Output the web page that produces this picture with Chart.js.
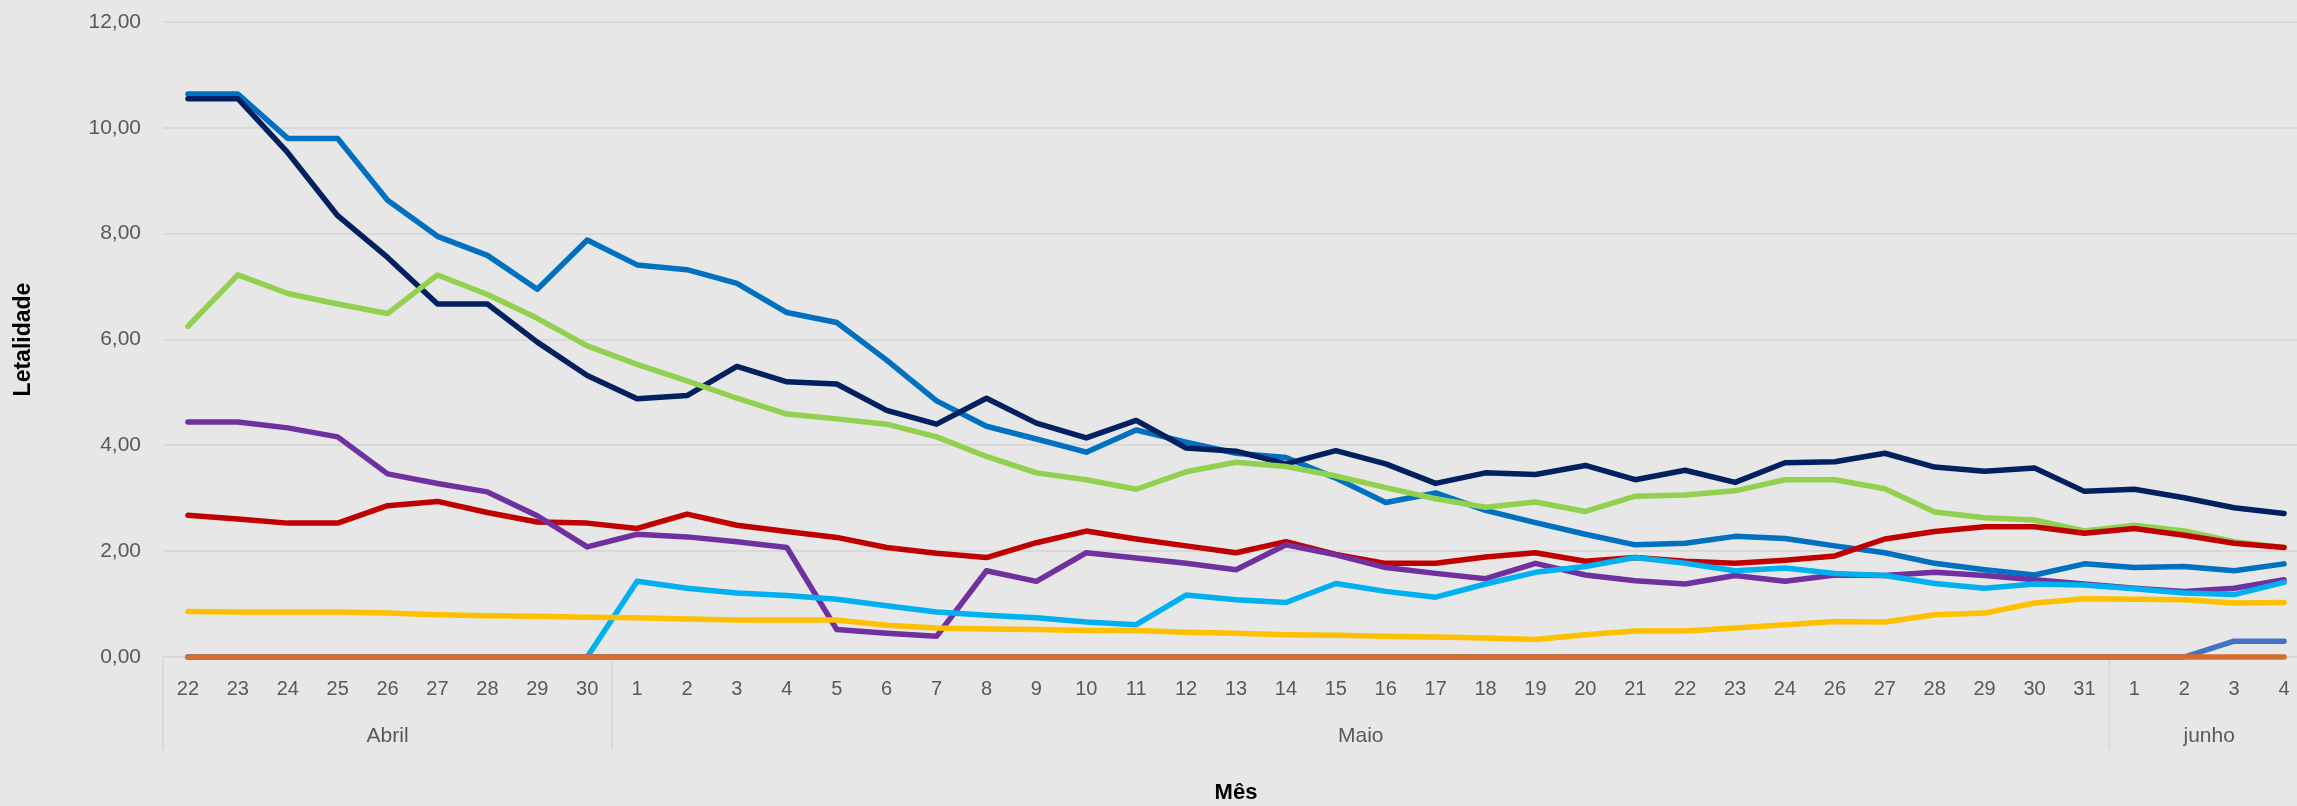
<!DOCTYPE html>
<html>
<head>
<meta charset="utf-8">
<script src="https://cdn.jsdelivr.net/npm/chart.js@4/dist/chart.umd.min.js"></script>
<style>
    html, body { margin: 0; padding: 0; overflow: hidden; background: #E7E7E7; }
    canvas { display: block; background: #E7E7E7; }
</style>
</head>
<body>
<canvas id="chart" width="2320" height="806"></canvas>
<script>
// categorias (dias) e agrupamento por mês
const dias = ['22', '23', '24', '25', '26', '27', '28', '29', '30',
    '1', '2', '3', '4', '5', '6', '7', '8', '9', '10', '11', '12', '13', '14', '15', '16',
    '17', '18', '19', '20', '21', '22', '23', '24', '26', '27', '28', '29', '30', '31',
    '1', '2', '3', '4'];
const meses = ['Abril', 'Maio', 'junho'];
const diasPorMes = [9, 30, 4];

const yTicks = [0, 2, 4, 6, 8, 10, 12];

// séries de letalidade
const serieAzulEscuro = [10.55, 10.55, 9.53, 8.34, 7.55, 6.67, 6.67, 5.95, 5.32, 4.88, 4.94, 5.49, 5.20, 5.16, 4.66,
    4.40, 4.89, 4.42, 4.14, 4.47, 3.95, 3.89, 3.65, 3.90, 3.65, 3.28, 3.48, 3.45, 3.62, 3.35, 3.53, 3.30, 3.67,
    3.69, 3.85, 3.59, 3.51, 3.57, 3.13, 3.17, 3.01, 2.82, 2.71];
const serieAzul = [10.64, 10.64, 9.80, 9.80, 8.63, 7.95, 7.59, 6.95, 7.88, 7.41, 7.32, 7.06, 6.51, 6.32, 5.61,
    4.84, 4.36, 4.12, 3.87, 4.29, 4.06, 3.85, 3.77, 3.38, 2.92, 3.10, 2.77, 2.54, 2.32, 2.12, 2.15, 2.28, 2.24,
    2.10, 1.97, 1.77, 1.65, 1.55, 1.76, 1.69, 1.71, 1.63, 1.76];
const serieVerde = [6.25, 7.22, 6.87, 6.67, 6.49, 7.22, 6.85, 6.40, 5.88, 5.53, 5.22, 4.89, 4.59, 4.50, 4.40,
    4.16, 3.79, 3.48, 3.35, 3.17, 3.50, 3.68, 3.60, 3.42, 3.20, 2.99, 2.83, 2.93, 2.75, 3.04, 3.06, 3.14, 3.35,
    3.35, 3.18, 2.74, 2.63, 2.59, 2.38, 2.49, 2.38, 2.18, 2.07];
const serieRoxo = [4.44, 4.44, 4.33, 4.16, 3.46, 3.28, 3.12, 2.67, 2.08, 2.32, 2.27, 2.18, 2.07, 0.52, 0.45,
    0.39, 1.63, 1.43, 1.97, 1.87, 1.77, 1.65, 2.12, 1.93, 1.69, 1.58, 1.48, 1.77, 1.55, 1.44, 1.38, 1.54, 1.43,
    1.55, 1.54, 1.60, 1.54, 1.46, 1.38, 1.30, 1.24, 1.30, 1.46];
const serieVermelho = [2.68, 2.61, 2.53, 2.53, 2.86, 2.94, 2.73, 2.55, 2.53, 2.43, 2.70, 2.49, 2.37, 2.26, 2.07,
    1.96, 1.88, 2.16, 2.38, 2.23, 2.10, 1.97, 2.18, 1.94, 1.77, 1.77, 1.89, 1.97, 1.81, 1.88, 1.81, 1.77, 1.83,
    1.91, 2.23, 2.37, 2.46, 2.46, 2.34, 2.43, 2.30, 2.15, 2.07];
const serieCiano = [0, 0, 0, 0, 0, 0, 0, 0, 0, 1.43, 1.30, 1.21, 1.16, 1.09, 0.97,
    0.85, 0.79, 0.74, 0.66, 0.61, 1.17, 1.08, 1.03, 1.39, 1.24, 1.13, 1.38, 1.60, 1.71, 1.88, 1.77, 1.63, 1.68,
    1.58, 1.54, 1.39, 1.30, 1.38, 1.36, 1.29, 1.21, 1.18, 1.41];
const serieAmarelo = [0.86, 0.85, 0.85, 0.85, 0.83, 0.80, 0.78, 0.77, 0.75, 0.74, 0.72, 0.70, 0.70, 0.70, 0.60,
    0.55, 0.53, 0.52, 0.50, 0.50, 0.47, 0.45, 0.42, 0.41, 0.39, 0.38, 0.36, 0.33, 0.42, 0.49, 0.49, 0.55, 0.61,
    0.67, 0.66, 0.80, 0.83, 1.02, 1.10, 1.09, 1.08, 1.02, 1.03];
const serieAzulAco = [0, 0, 0, 0, 0, 0, 0, 0, 0, 0, 0, 0, 0, 0, 0,
    0, 0, 0, 0, 0, 0, 0, 0, 0, 0, 0, 0, 0, 0, 0, 0, 0, 0,
    0, 0, 0, 0, 0, 0, 0, 0, 0.30, 0.30];
const serieLaranja = [0, 0, 0, 0, 0, 0, 0, 0, 0, 0, 0, 0, 0, 0, 0,
    0, 0, 0, 0, 0, 0, 0, 0, 0, 0, 0, 0, 0, 0, 0, 0, 0, 0,
    0, 0, 0, 0, 0, 0, 0, 0, 0, 0];

const fonte = "'Liberation Sans', Arial, sans-serif";

function linha(dados, cor, ordem) {
    return {
        data: dados,
        borderColor: cor,
        backgroundColor: cor,
        borderWidth: 5.5,
        borderCapStyle: 'round',
        borderJoinStyle: 'round',
        pointRadius: 0,
        tension: 0,
        clip: false,
        order: ordem
    };
}

// rótulos de mês (segundo nível do eixo x)
const mesesPlugin = {
    id: 'meses',
    afterDraw(chart) {
        const ctx = chart.ctx;
        const x = chart.scales.x;
        const base = chart.chartArea.bottom;
        const meio = (i) => (x.getPixelForValue(i) + x.getPixelForValue(i + 1)) / 2;
        ctx.save();
        ctx.strokeStyle = '#D9D9D9';
        ctx.lineWidth = 2;
        ctx.fillStyle = '#595959';
        ctx.font = '21px ' + fonte;
        ctx.textAlign = 'center';
        ctx.textBaseline = 'middle';
        let inicio = 0;
        meses.forEach((mes, k) => {
            const fim = inicio + diasPorMes[k] - 1;
            const esq = inicio === 0 ? x.left : meio(inicio - 1);
            const dir = fim === dias.length - 1 ? x.right : meio(fim);
            ctx.beginPath();
            ctx.moveTo(esq, base + 3);
            ctx.lineTo(esq, 750);
            ctx.stroke();
            ctx.fillText(mes, (esq + dir) / 2, 736);
            inicio = fim + 1;
        });
        ctx.restore();
    }
};

new Chart(document.getElementById('chart').getContext('2d'), {
    type: 'line',
    data: {
        labels: dias,
        datasets: [
            linha(serieAzul, '#0070C0', 8),
            linha(serieAzulEscuro, '#002060', 7),
            linha(serieVerde, '#92D050', 6),
            linha(serieVermelho, '#C00000', 5),
            linha(serieRoxo, '#7030A0', 4),
            linha(serieCiano, '#00B0F0', 3),
            linha(serieAmarelo, '#FFC000', 2),
            linha(serieAzulAco, '#4472C4', 1),
            linha(serieLaranja, '#D36F2D', 0)
        ]
    },
    options: {
        responsive: false,
        animation: false,
        layout: {
            padding: { top: 22, right: 11, bottom: 0, left: 0 }
        },
        plugins: {
            legend: { display: false },
            tooltip: { enabled: false }
        },
        scales: {
            x: {
                offset: true,
                grid: { display: false, drawTicks: false },
                border: { display: true, color: '#D9D9D9', width: 2 },
                ticks: {
                    autoSkip: false,
                    maxRotation: 0,
                    padding: 20,
                    color: '#595959',
                    font: { size: 20, family: fonte }
                },
                title: {
                    display: true,
                    text: 'Mês',
                    color: '#000000',
                    font: { size: 22, weight: 'bold', family: fonte },
                    padding: { top: 0, bottom: 0 }
                },
                afterFit(scale) {
                    scale.height = 149;
                }
            },
            y: {
                min: 0,
                max: 12,
                afterBuildTicks(scale) {
                    scale.ticks = yTicks.map(v => ({ value: v }));
                },
                grid: { color: '#D9D9D9', lineWidth: 2, drawTicks: false },
                border: { display: false },
                ticks: {
                    padding: 22,
                    color: '#595959',
                    font: { size: 21, family: fonte },
                    callback: (v) => v.toFixed(2).replace('.', ',')
                },
                title: {
                    display: true,
                    text: 'Letalidade',
                    color: '#000000',
                    font: { size: 23, weight: 'bold', family: fonte },
                    padding: { top: 10, bottom: 0 }
                },
                afterFit(scale) {
                    scale.width = 163;
                    scale.paddingTop = 0;
                    scale.paddingBottom = 0;
                }
            }
        }
    },
    plugins: [mesesPlugin]
});
</script>
</body>
</html>
